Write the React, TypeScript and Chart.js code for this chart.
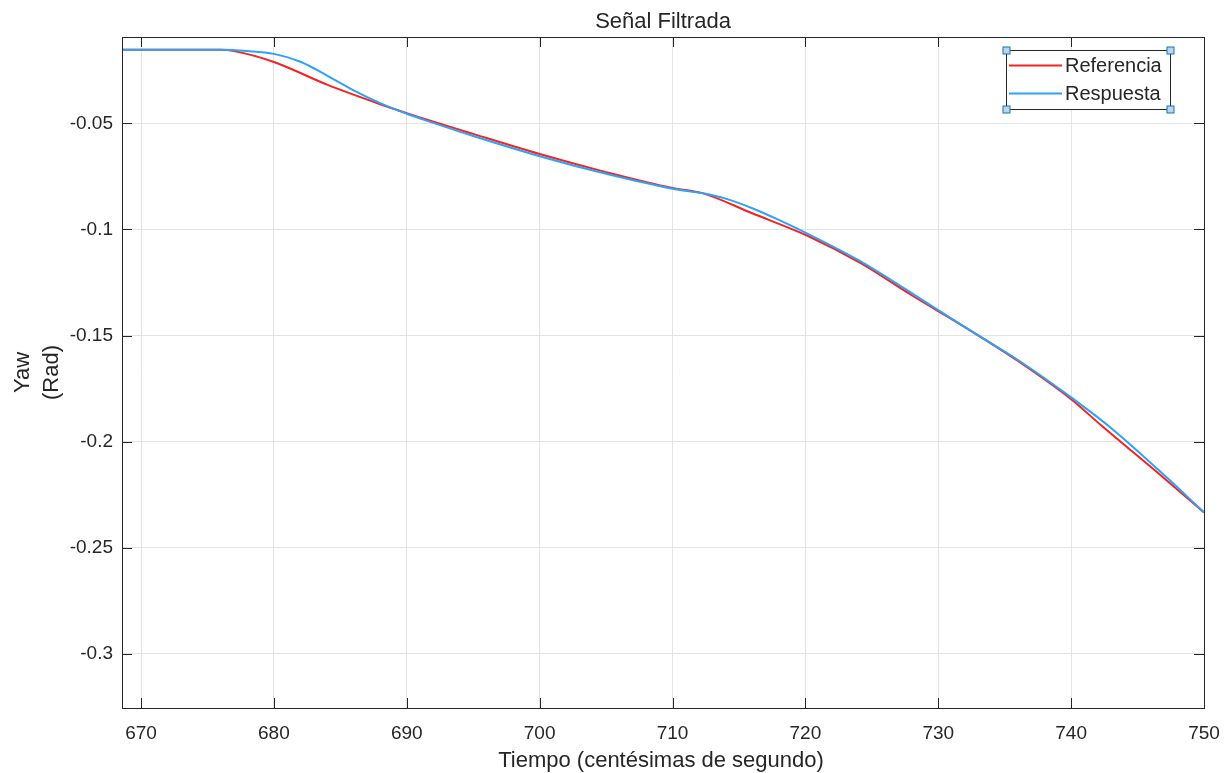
import React, { useEffect, useRef } from "react";
import { Chart, registerables } from "chart.js";

Chart.register(...registerables);

const refX = [668.57, 676, 677, 680, 684, 688, 690, 695, 700, 705, 710, 712.3, 716, 720.2, 724.2, 728, 732, 736, 740, 742.3, 747, 750];
const refY = [-0.0154, -0.0154, -0.016, -0.0211, -0.0318, -0.041, -0.0452, -0.055, -0.0645, -0.073, -0.0805, -0.083, -0.0924, -0.1031, -0.116, -0.131, -0.146, -0.162, -0.18, -0.1925, -0.2172, -0.2333];

const respX = [668.57, 676, 678, 680, 682, 684, 686, 688, 690, 692, 695, 700, 705, 710, 712.3, 714, 716, 718, 720, 724, 728, 732, 736, 740, 743, 747, 750];
const respY = [-0.0154, -0.0154, -0.016, -0.0173, -0.021, -0.0275, -0.0345, -0.0405, -0.0455, -0.0498, -0.056, -0.0655, -0.0738, -0.0808, -0.083, -0.0855, -0.09, -0.0955, -0.1015, -0.1145, -0.13, -0.146, -0.1615, -0.1791, -0.1935, -0.2157, -0.2333];

const xTicks = [670, 680, 690, 700, 710, 720, 730, 740, 750];
const yTicks = [-0.3, -0.25, -0.2, -0.15, -0.1, -0.05];
const yTickLabels = ["-0.3", "-0.25", "-0.2", "-0.15", "-0.1", "-0.05"];

const seriesNames = ["Referencia", "Respuesta"];
const seriesColors = ["#f52222", "#2ea2f8"];
const titleText = "Señal Filtrada";
const xTitle = "Tiempo (centésimas de segundo)";
const yTitleLines = ["Yaw", "(Rad)"];

const FONT = "'Liberation Sans', Arial, Helvetica, sans-serif";

const decor = {
  id: "decor",
  afterDraw(chart: any) {
    const ctx = chart.ctx;
    const a = chart.chartArea;
    const xs = chart.scales.x;
    const ys = chart.scales.y;
    ctx.save();
    ctx.strokeStyle = "#262626";
    ctx.lineWidth = 1;
    ctx.strokeRect(Math.round(a.left) + 0.5, Math.round(a.top) + 0.5, Math.round(a.right - a.left), Math.round(a.bottom - a.top));
    const tl = 10;
    ctx.beginPath();
    xTicks.forEach((v) => {
      const px = Math.round(xs.getPixelForValue(v)) + 0.5;
      ctx.moveTo(px, a.bottom);
      ctx.lineTo(px, a.bottom - tl);
      ctx.moveTo(px, a.top);
      ctx.lineTo(px, a.top + tl);
    });
    yTicks.forEach((v) => {
      const py = Math.round(ys.getPixelForValue(v)) + 0.5;
      ctx.moveTo(a.left, py);
      ctx.lineTo(a.left + tl, py);
      ctx.moveTo(a.right, py);
      ctx.lineTo(a.right - tl, py);
    });
    ctx.stroke();

    ctx.fillStyle = "#262626";
    ctx.font = `22px ${FONT}`;
    ctx.textAlign = "center";
    ctx.textBaseline = "alphabetic";
    const cx = (a.left + a.right) / 2;
    ctx.fillText(titleText, cx, 28);
    ctx.fillText(xTitle, cx - 2, 767);
    const cy = (a.top + a.bottom) / 2;
    ctx.save();
    ctx.translate(0, cy);
    ctx.rotate(-Math.PI / 2);
    ctx.fillText(yTitleLines[0], 0, 28.5);
    ctx.fillText(yTitleLines[1], 0, 58);
    ctx.restore();

    const lx = 1006.5, ly = 50.5, lw = 164, lh = 59;
    ctx.fillStyle = "#ffffff";
    ctx.fillRect(lx, ly, lw, lh);
    ctx.strokeStyle = "#262626";
    ctx.lineWidth = 1;
    ctx.strokeRect(lx, ly, lw, lh);
    const rows = [65.5, 93.5];
    ctx.font = `20px ${FONT}`;
    ctx.textAlign = "left";
    ctx.textBaseline = "middle";
    rows.forEach((ry, i) => {
      ctx.strokeStyle = seriesColors[i];
      ctx.lineWidth = 1.8;
      ctx.beginPath();
      ctx.moveTo(1009, ry);
      ctx.lineTo(1062, ry);
      ctx.stroke();
      ctx.fillStyle = "#262626";
      ctx.fillText(seriesNames[i], 1065, ry + 1);
    });
    const hs = 7;
    [[lx, ly], [lx + lw, ly], [lx, ly + lh], [lx + lw, ly + lh]].forEach(([hx, hy]) => {
      ctx.fillStyle = "#b6d6f2";
      ctx.fillRect(hx - hs / 2, hy - hs / 2, hs, hs);
      ctx.strokeStyle = "#1e6fb4";
      ctx.lineWidth = 1;
      ctx.strokeRect(hx - hs / 2, hy - hs / 2, hs, hs);
    });
    ctx.restore();
  },
};

export default function App() {
  const ref = useRef<HTMLCanvasElement | null>(null);
  useEffect(() => {
    document.body.style.margin = "0";
    const c = ref.current!;
    const chart = new Chart(c, {
      type: "line",
      data: {
        datasets: [
          {
            label: seriesNames[0],
            data: refX.map((x, i) => ({ x, y: refY[i] })),
            borderColor: seriesColors[0],
            borderWidth: 2,
            pointRadius: 0,
            cubicInterpolationMode: "monotone",
            order: 2,
          },
          {
            label: seriesNames[1],
            data: respX.map((x, i) => ({ x, y: respY[i] })),
            borderColor: seriesColors[1],
            borderWidth: 2,
            pointRadius: 0,
            cubicInterpolationMode: "monotone",
            order: 1,
          },
        ],
      },
      options: {
        responsive: false,
        animation: false,
        layout: { padding: { left: 0, right: 27, top: 37, bottom: 0 } },
        plugins: {
          legend: { display: false },
          title: { display: false },
          tooltip: { enabled: false },
        },
        scales: {
          x: {
            type: "linear",
            min: 668.57,
            max: 750,
            afterBuildTicks: (s: any) => {
              s.ticks = xTicks.map((v) => ({ value: v }));
            },
            afterFit: (s: any) => {
              s.height = 65;
              s.paddingLeft = 0;
              s.paddingRight = 0;
            },
            ticks: {
              color: "#262626",
              font: { family: FONT, size: 19 },
              padding: 14,
              maxRotation: 0,
              autoSkip: false,
              callback: (v: any) => String(v),
            },
            grid: { color: "#e3e3e3", lineWidth: 1, drawTicks: false },
            border: { display: false },
          },
          y: {
            type: "linear",
            min: -0.32544,
            max: -0.00935,
            afterBuildTicks: (s: any) => {
              s.ticks = yTicks.map((v) => ({ value: v }));
            },
            afterFit: (s: any) => {
              s.width = 122;
              s.paddingTop = 0;
              s.paddingBottom = 0;
            },
            ticks: {
              color: "#262626",
              font: { family: FONT, size: 19 },
              padding: 9,
              autoSkip: false,
              callback: (v: any) => {
                const i = yTicks.findIndex((t) => Math.abs(t - v) < 1e-9);
                return i >= 0 ? yTickLabels[i] : "";
              },
            },
            grid: { color: "#e3e3e3", lineWidth: 1, drawTicks: false },
            border: { display: false },
          },
        },
      },
      plugins: [decor],
    });
    return () => chart.destroy();
  }, []);
  return (
    <div style={{ width: 1231, height: 773, background: "#fff" }}>
      <canvas ref={ref} width={1231} height={773} style={{ display: "block" }} />
    </div>
  );
}
